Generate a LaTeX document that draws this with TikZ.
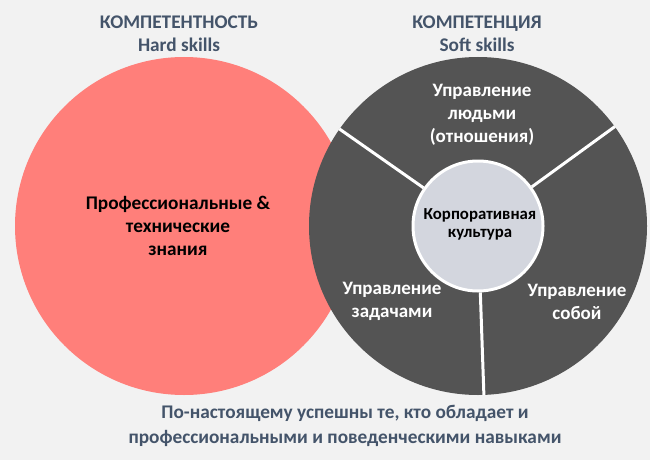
\documentclass[tikz,border=0pt]{standalone}
\usepackage{fontspec}
\setmainfont{Carlito}
\definecolor{bgc}{HTML}{F2F2F2}
\definecolor{redc}{HTML}{FF7F7A}
\definecolor{darkc}{HTML}{545454}
\definecolor{innerc}{HTML}{D3D6DE}
\definecolor{headc}{HTML}{44546A}
\begin{document}
\begin{tikzpicture}[x=1pt,y=-1pt,
  bigcircle/.style={circle,inner sep=0pt,minimum size=338pt},
  headtext/.style={align=center,text=headc,font=\fontsize{19.3}{23}\selectfont\bfseries},
  bodytext/.style={align=center,text=black,font=\fontsize{19.3}{23}\selectfont\bfseries},
  whitetext/.style={align=center,text=white,font=\fontsize{19}{23}\selectfont\bfseries},
  smalltext/.style={align=center,text=black,font=\fontsize{16.8}{18}\selectfont\bfseries},
  divider/.style={white,line width=3pt}]
\fill[bgc] (0,0) rectangle (650,460);
\useasboundingbox (0,0) rectangle (650,460);
\node[bigcircle,fill=redc] (hard) at (184,226) {};
\node[bigcircle,fill=darkc] (soft) at (478,226) {};
\node[circle,inner sep=0pt,minimum size=130pt,fill=innerc,draw=white,line width=3pt] (core) at (478,226) {};
\draw[divider] (core.145) -- (soft.145);
\draw[divider] (core.36) -- (soft.36);
\draw[divider] (core.272) -- (soft.272);
\node[smalltext] (coretext) at (480,224) {Корпоративная\\культура};
\node[headtext] (h1) at (179,33.5) {КОМПЕТЕНТНОСТЬ\\Hard skills};
\node[headtext] (h2) at (477,33.5) {КОМПЕТЕНЦИЯ\\Soft skills};
\node[bodytext] (hardtext) at (178,226) {Профессиональные \&\\технические\\знания};
\node[whitetext] (people) at (482,115) {Управление\\людьми\\(отношения)};
\node[whitetext] (tasks) at (392,301.5) {Управление\\задачами};
\node[whitetext] (self) at (577,301.5) {Управление\\собой};
\node[headtext,font=\fontsize{19.3}{25}\selectfont\bfseries] (bottom) at (345,425.5) {По-настоящему успешны те, кто обладает и\\профессиональными и поведенческими навыками};
\end{tikzpicture}
\end{document}
